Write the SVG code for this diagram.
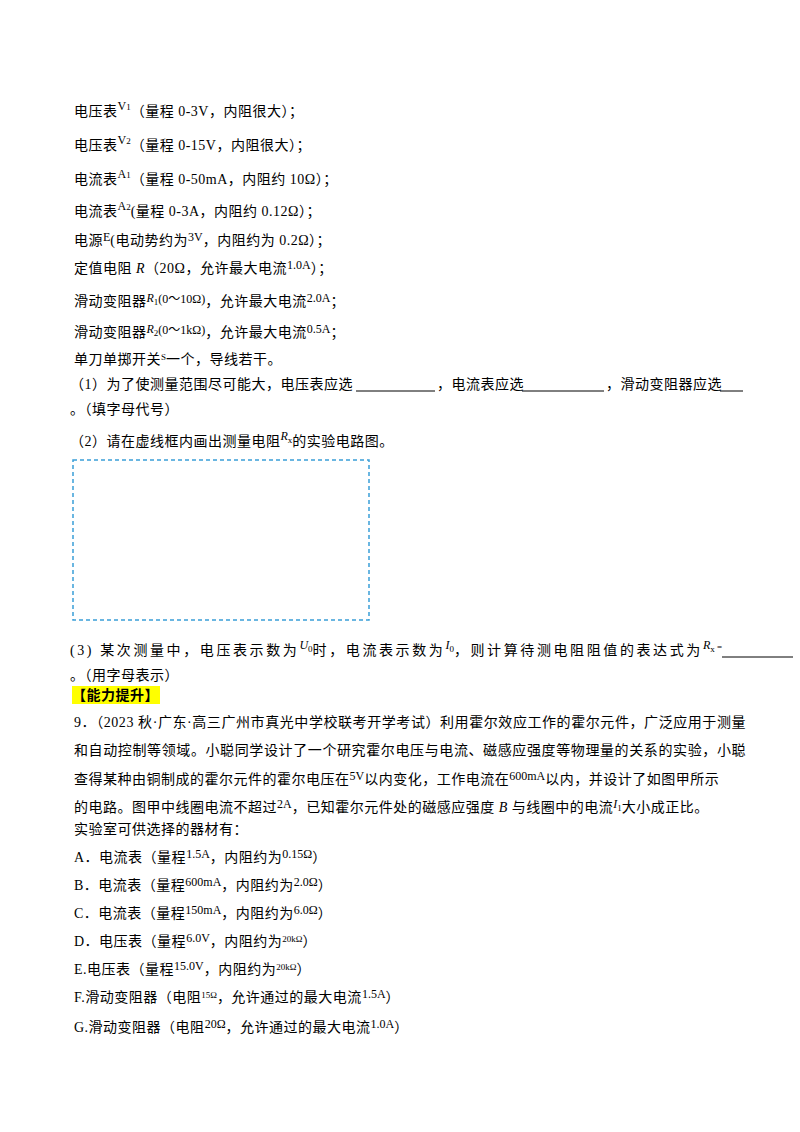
<svg xmlns="http://www.w3.org/2000/svg" width="800" height="1132" viewBox="0 0 800 1132">
<style>
text{font-family:"Liberation Serif","Noto Sans CJK SC",serif;font-size:14px;fill:#000;letter-spacing:0.5px}
.s{font-size:9px;letter-spacing:0}
.m{font-size:12px;letter-spacing:0}
.i{font-style:italic}
</style>
<rect width="800" height="1132" fill="#fff"/>
<text x="74" y="116">电压表<tspan dy="-6" class="m">V</tspan><tspan class="s">1</tspan><tspan dy="6">（量程 0-3V，内阻很大）；</tspan></text>
<text x="74" y="150">电压表<tspan dy="-6" class="m">V</tspan><tspan class="s">2</tspan><tspan dy="6">（量程 0-15V，内阻很大）；</tspan></text>
<text x="74" y="184">电流表<tspan dy="-6" class="m">A</tspan><tspan class="s">1</tspan><tspan dy="6">（量程 0-50mA，内阻约 10Ω）；</tspan></text>
<text x="74" y="216">电流表<tspan dy="-6" class="m">A</tspan><tspan class="s">2</tspan><tspan dy="6">(量程 0-3A，内阻约 0.12Ω）；</tspan></text>
<text x="74" y="245">电源<tspan dy="-4" class="m">E</tspan><tspan dy="4">(电动势约为</tspan><tspan dy="-4" class="m">3V</tspan><tspan dy="4">，内阻约为 0.2Ω）；</tspan></text>
<text x="74" y="273">定值电阻 <tspan class="i">R</tspan>（20Ω，允许最大电流<tspan dy="-4" class="m">1.0A</tspan><tspan dy="4">）；</tspan></text>
<text x="74" y="306">滑动变阻器<tspan class="i m" dy="-4">R</tspan><tspan class="s" dy="3">1</tspan><tspan dy="-2" class="m">(0～10Ω)</tspan><tspan dy="3">，允许最大电流</tspan><tspan dy="-4" class="m">2.0A</tspan><tspan dy="4">；</tspan></text>
<text x="74" y="337">滑动变阻器<tspan class="i m" dy="-4">R</tspan><tspan class="s" dy="3">2</tspan><tspan dy="-2" class="m">(0～1kΩ)</tspan><tspan dy="3">，允许最大电流</tspan><tspan dy="-4" class="m">0.5A</tspan><tspan dy="4">；</tspan></text>
<text x="74" y="364">单刀单掷开关<tspan class="s" dy="-4">S</tspan><tspan dy="4">一个，导线若干。</tspan></text>
<text x="70" y="389">（1）为了使测量范围尽可能大，电压表应选</text>
<line x1="356" y1="391" x2="435" y2="391" stroke="#000"/>
<text x="437" y="389">，电流表应选</text>
<line x1="522" y1="391" x2="604" y2="391" stroke="#000"/>
<text x="606" y="389">，滑动变阻器应选</text>
<line x1="720" y1="391" x2="743" y2="391" stroke="#000"/>
<text x="70" y="414">。（填字母代号）</text>
<text x="70" y="446">（2）请在虚线框内画出测量电阻<tspan class="i m" dy="-6">R</tspan><tspan class="s" dy="3">x</tspan><tspan dy="3">的实验电路图。</tspan></text>
<rect x="73" y="460" width="296" height="160" fill="none" stroke="#3a9fd8" stroke-width="1.5" stroke-dasharray="4,3"/>
<text x="70" y="655" style="letter-spacing:2.6px">(3) 某次测量中，电压表示数为<tspan class="i m" dy="-6">U</tspan><tspan class="s" dy="3">0</tspan><tspan dy="3">时，电流表示数为</tspan><tspan class="i m" dy="-6">I</tspan><tspan class="s" dy="3">0</tspan><tspan dy="3">，则计算待测电阻阻值的表达式为</tspan><tspan class="i m" dy="-6">R</tspan><tspan class="s" dy="3">x</tspan><tspan dy="-2" class="s"> =</tspan></text>
<line x1="722" y1="657" x2="793" y2="657" stroke="#000"/>
<text x="70" y="680">。（用字母表示）</text>
<rect x="72" y="686" width="88" height="18" fill="#ffff00"/>
<text x="72" y="700" font-weight="bold">【能力提升】</text>
<text x="74" y="727" textLength="672" lengthAdjust="spacing">9．（2023 秋·广东·高三广州市真光中学校联考开学考试）利用霍尔效应工作的霍尔元件，广泛应用于测量</text>
<text x="74" y="755" textLength="672" lengthAdjust="spacing">和自动控制等领域。小聪同学设计了一个研究霍尔电压与电流、磁感应强度等物理量的关系的实验，小聪</text>
<text x="74" y="784">查得某种由铜制成的霍尔元件的霍尔电压在<tspan dy="-4" class="m">5V</tspan><tspan dy="4">以内变化，工作电流在</tspan><tspan dy="-4" class="m">600mA</tspan><tspan dy="4">以内，并设计了如图甲所示</tspan></text>
<text x="74" y="812">的电路。图甲中线圈电流不超过<tspan dy="-4" class="m">2A</tspan><tspan dy="4">，已知霍尔元件处的磁感应强度 </tspan><tspan class="i">B</tspan> 与线圈中的电流<tspan class="i m" dy="-4">I</tspan><tspan class="s" dy="3">1</tspan><tspan dy="1">大小成正比。</tspan></text>
<text x="74" y="834">实验室可供选择的器材有：</text>
<text x="74" y="862">A．电流表（量程<tspan dy="-4" class="m">1.5A</tspan><tspan dy="4">，内阻约为</tspan><tspan dy="-4" class="m">0.15Ω</tspan><tspan dy="4">）</tspan></text>
<text x="74" y="890">B．电流表（量程<tspan dy="-4" class="m">600mA</tspan><tspan dy="4">，内阻约为</tspan><tspan dy="-4" class="m">2.0Ω</tspan><tspan dy="4">）</tspan></text>
<text x="74" y="918">C．电流表（量程<tspan dy="-4" class="m">150mA</tspan><tspan dy="4">，内阻约为</tspan><tspan dy="-4" class="m">6.0Ω</tspan><tspan dy="4">）</tspan></text>
<text x="74" y="946">D．电压表（量程<tspan dy="-4" class="m">6.0V</tspan><tspan dy="4">，内阻约为</tspan><tspan dy="-4" class="s">20kΩ</tspan><tspan dy="4">）</tspan></text>
<text x="74" y="974">E.电压表（量程<tspan dy="-4" class="m">15.0V</tspan><tspan dy="4">，内阻约为</tspan><tspan dy="-4" class="s">20kΩ</tspan><tspan dy="4">）</tspan></text>
<text x="74" y="1002">F.滑动变阻器（电阻<tspan dy="-4" class="s">15Ω</tspan><tspan dy="4">，允许通过的最大电流</tspan><tspan dy="-4" class="m">1.5A</tspan><tspan dy="4">）</tspan></text>
<text x="74" y="1032">G.滑动变阻器（电阻<tspan dy="-4" class="m">20Ω</tspan><tspan dy="4">，允许通过的最大电流</tspan><tspan dy="-4" class="m">1.0A</tspan><tspan dy="4">）</tspan></text>
</svg>
